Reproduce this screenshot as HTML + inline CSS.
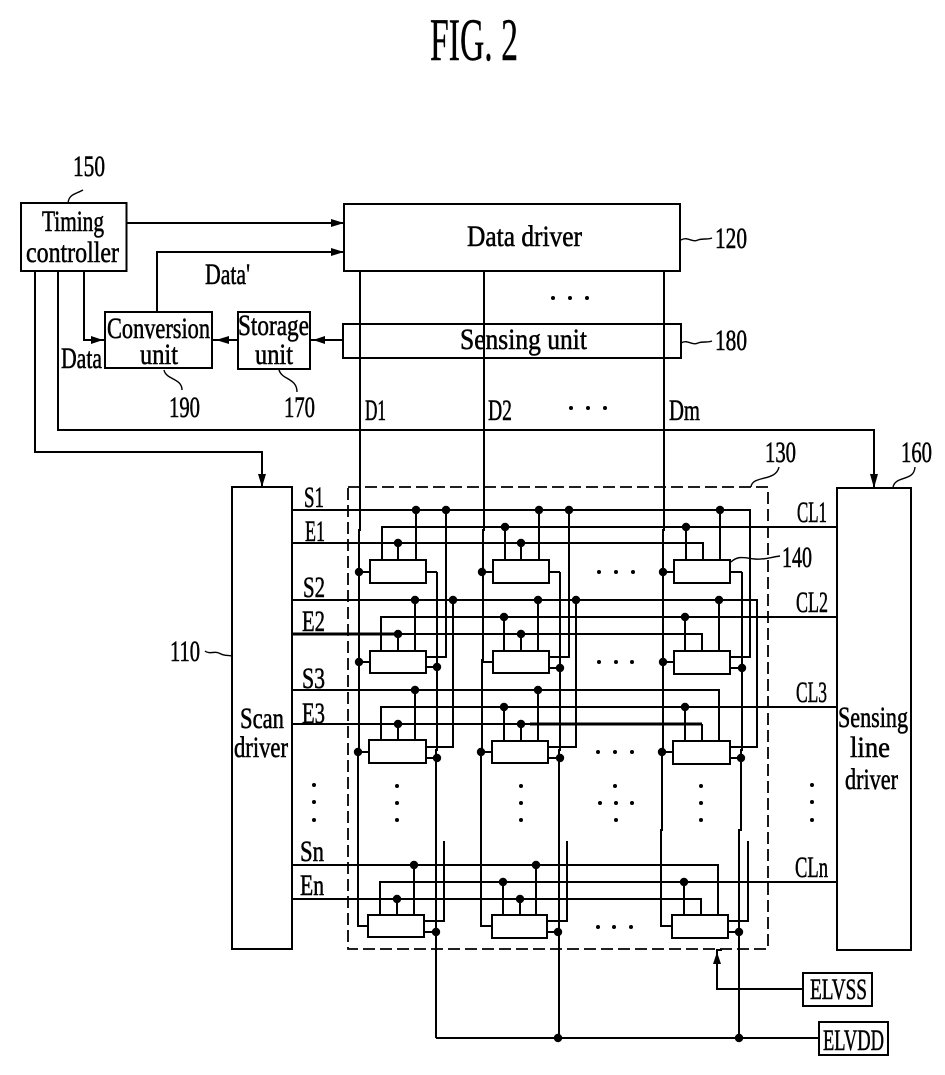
<!DOCTYPE html>
<html><head><meta charset="utf-8">
<style>
html,body{margin:0;padding:0;background:#fff;width:945px;height:1075px;overflow:hidden}
svg{display:block}
text{font-family:"Liberation Serif",serif;fill:#000;stroke:#000;stroke-width:.55;font-size:30px}
.l{fill:none;stroke:#000;stroke-width:2.4;shape-rendering:crispEdges}
.t{fill:none;stroke:#000;stroke-width:1.6;shape-rendering:crispEdges}
.h{fill:none;stroke:#000;stroke-width:3;shape-rendering:crispEdges}
.b{fill:#fff;stroke:#000;stroke-width:2.4;shape-rendering:crispEdges}
.w{fill:none;stroke:#000;stroke-width:1.4}
</style></head><body>
<svg width="945" height="1075" viewBox="0 0 945 1075" xmlns="http://www.w3.org/2000/svg">
<!-- Title -->
<text x="430" y="60" style="font-size:60px;stroke-width:.4" textLength="88" lengthAdjust="spacingAndGlyphs">FIG. 2</text>

<!-- Main blocks -->
<rect class="b" x="21" y="203" width="105.5" height="68"/>
<rect class="l" x="344" y="204" width="336" height="67"/>
<rect class="l" x="343" y="324" width="338" height="34"/>
<rect class="b" x="105" y="312" width="107" height="56"/>
<rect class="b" x="238" y="312" width="72" height="57"/>
<rect class="b" x="232" y="487" width="60" height="462"/>
<rect class="b" x="837" y="488" width="74" height="462"/>
<rect class="b" x="803" y="973" width="69" height="33"/>
<rect class="b" x="819" y="1022" width="69" height="33"/>

<!-- Dashed panel -->
<rect x="348" y="487" width="420" height="462" fill="none" stroke="#000" stroke-width="1.8" stroke-dasharray="12 5"/>

<!-- Top connections -->
<path class="l" d="M127 223H344"/><path d="M331 219L344 223L331 227Z"/>
<path class="t" d="M157 312V252H344"/><path d="M331 248L344 252L331 256Z"/>
<path class="l" d="M84 271V340H105"/><path d="M91 336L103 340L91 344Z"/>
<path class="l" d="M238 340H212"/><path d="M229 336L216 340L229 344Z"/>
<path class="l" d="M343 340H310"/><path d="M325 336L313 340L325 344Z"/>
<path class="l" d="M35 271V452H262V486"/><path d="M258 474L262 487L266 474Z"/>
<path class="l" d="M58 271V430H874V487"/><path d="M870 474L874 488L878 474Z"/>

<!-- Data lines -->
<path class="l" d="M360 271V530H359V750H358V926H368"/>
<path class="l" d="M484 271V530H483V660H482V750H481V926H492"/>
<path class="t" d="M664 271V530H663V750H662V830H661V926H672"/>

<!-- Row 1 -->
<path class="l" d="M292 510H750V657H731"/>
<path class="t" d="M382 560V527H836"/>
<path class="l" d="M292 543H703V560"/>
<path class="l" d="M416 510V560M505 527V560M686 527V560M720 510V560M446 510V657H426M569 510V657H549"/>
<path class="t" d="M398 543V560M539 510V560"/><path class="l" d="M521 543V560"/>
<!-- Row 2 -->
<path class="l" d="M292 600H757V747H731"/>
<path class="l" d="M381 650V617H665"/><path class="t" d="M665 617H836"/>
<path class="l" d="M400 634H702V650"/><path class="h" d="M292 634H400"/>
<path class="l" d="M453 600V747H426M576 600V747H549M415 600V650M398 634V650M521 634V650M504 617V650"/>
<path class="t" d="M538 600V650M685 617V650M719 600V650"/>
<!-- Row 3 -->
<path class="t" d="M292 690H430"/><path class="l" d="M430 690H719V741"/>
<path class="t" d="M665 707H836"/><path class="l" d="M381 741V707H665"/>
<path class="l" d="M292 724H530"/><path class="h" d="M530 724H702"/><path class="t" d="M702 724V741"/>
<path class="l" d="M398 724V741M504 707V741M538 690V741M685 707V741"/>
<path class="t" d="M415 690V741M521 724V741"/>
<!-- Row n -->
<path class="l" d="M292 865H580"/><path class="t" d="M580 865H718V915"/>
<path class="l" d="M380 915V882H836"/>
<path class="l" d="M292 899H701V915"/>
<path class="l" d="M397 899V915M414 865V915M503 882V915M536 865V915"/>
<path class="t" d="M520 899V915M684 882V915"/>
<path class="l" d="M444 841V921H424M567 841V921H547M748 841V921H728"/>

<!-- Power lines -->
<path class="l" d="M437 572H426M437 572V750H436V1038"/>
<path class="l" d="M560 572H549M560 572V750H559V1038"/>
<path class="l" d="M742 572H730M742 572V750H741V830H739V1038"/>
<path class="l" d="M426 667H437M549 668H560M730 668H742M426 758H437M548 758H560M730 758H741M424 932H436M547 932H558M728 932H739"/>
<path class="l" d="M436 1038H819"/>
<path class="l" d="M803 989H717V950H722"/><path d="M713 964L717 952L721 964Z"/>

<!-- Left stubs -->
<path class="l" d="M359 572H370M482 572H493M663 572H674M359 662H370M482 662H493M663 662H674M358 752H369M481 752H492M662 752H673"/>

<!-- Pixel boxes -->
<rect class="b" x="370" y="560" width="56" height="23"/><rect class="b" x="493" y="560" width="56" height="23"/><rect class="b" x="674" y="560" width="56" height="23"/>
<rect class="b" x="370" y="651" width="56" height="22"/><rect class="b" x="493" y="651" width="56" height="22"/><rect class="b" x="674" y="651" width="56" height="23"/>
<rect class="b" x="369" y="740" width="57" height="23"/><rect class="b" x="492" y="741" width="56" height="22"/><rect class="b" x="673" y="741" width="57" height="23"/>
<rect class="b" x="368" y="915" width="56" height="22"/><rect class="b" x="492" y="915" width="55" height="23"/><rect class="b" x="672" y="915" width="56" height="23"/>

<!-- Junction dots -->
<g fill="#000">
<circle cx="416" cy="510" r="4.2"/><circle cx="446" cy="510" r="4.2"/><circle cx="539" cy="510" r="4.2"/><circle cx="569" cy="510" r="4.2"/><circle cx="720" cy="510" r="4.2"/>
<circle cx="505" cy="527" r="4.2"/><circle cx="686" cy="527" r="4.2"/><circle cx="398" cy="543" r="4.2"/><circle cx="521" cy="543" r="4.2"/>
<circle cx="359" cy="572" r="4.2"/><circle cx="482" cy="572" r="4.2"/><circle cx="663" cy="572" r="4.2"/>
<circle cx="415" cy="600" r="4.2"/><circle cx="453" cy="600" r="4.2"/><circle cx="538" cy="600" r="4.2"/><circle cx="576" cy="600" r="4.2"/><circle cx="719" cy="600" r="4.2"/>
<circle cx="504" cy="617" r="4.2"/><circle cx="685" cy="617" r="4.2"/><circle cx="398" cy="634" r="4.2"/><circle cx="521" cy="634" r="4.2"/>
<circle cx="359" cy="662" r="4.2"/><circle cx="663" cy="662" r="4.2"/><circle cx="437" cy="667" r="4.2"/><circle cx="560" cy="668" r="4.2"/><circle cx="742" cy="668" r="4.2"/>
<circle cx="415" cy="690" r="4.2"/><circle cx="538" cy="690" r="4.2"/><circle cx="504" cy="707" r="4.2"/><circle cx="685" cy="707" r="4.2"/><circle cx="398" cy="724" r="4.2"/><circle cx="521" cy="724" r="4.2"/>
<circle cx="358" cy="752" r="4.2"/><circle cx="481" cy="752" r="4.2"/><circle cx="662" cy="752" r="4.2"/><circle cx="437" cy="758" r="4.2"/><circle cx="560" cy="758" r="4.2"/><circle cx="741" cy="758" r="4.2"/>
<circle cx="414" cy="865" r="4.2"/><circle cx="536" cy="865" r="4.2"/><circle cx="503" cy="882" r="4.2"/><circle cx="684" cy="882" r="4.2"/><circle cx="397" cy="899" r="4.2"/><circle cx="520" cy="899" r="4.2"/>
<circle cx="436" cy="932" r="4.2"/><circle cx="558" cy="932" r="4.2"/><circle cx="739" cy="932" r="4.2"/>
<circle cx="558" cy="1038" r="4.2"/><circle cx="739" cy="1038" r="4.2"/>
<!-- ellipsis dots -->
<g>
<circle cx="553" cy="298" r="2"/><circle cx="570" cy="298" r="2"/><circle cx="587" cy="298" r="2"/>
<circle cx="571" cy="408" r="2"/><circle cx="588" cy="408" r="2"/><circle cx="605" cy="408" r="2"/>
<circle cx="599" cy="572" r="2"/><circle cx="616" cy="572" r="2"/><circle cx="633" cy="572" r="2"/>
<circle cx="599" cy="662" r="2"/><circle cx="616" cy="662" r="2"/><circle cx="632" cy="662" r="2"/>
<circle cx="598" cy="752" r="2"/><circle cx="615" cy="752" r="2"/><circle cx="632" cy="752" r="2"/>
<circle cx="598" cy="927" r="2"/><circle cx="614" cy="927" r="2"/><circle cx="631" cy="927" r="2"/>
<circle cx="314" cy="785" r="2"/><circle cx="314" cy="802" r="2"/><circle cx="314" cy="820" r="2"/>
<circle cx="397" cy="786" r="2"/><circle cx="397" cy="803" r="2"/><circle cx="397" cy="820" r="2"/>
<circle cx="521" cy="786" r="2"/><circle cx="521" cy="803" r="2"/><circle cx="521" cy="820" r="2"/>
<circle cx="701" cy="786" r="2"/><circle cx="701" cy="803" r="2"/><circle cx="701" cy="820" r="2"/>
<circle cx="812" cy="785" r="2"/><circle cx="812" cy="802" r="2"/><circle cx="812" cy="820" r="2"/>
<circle cx="615" cy="786" r="2"/><circle cx="600" cy="803" r="2"/><circle cx="616" cy="803" r="2"/><circle cx="632" cy="803" r="2"/><circle cx="616" cy="820" r="2"/>
</g>
</g>

<!-- Leaders -->
<path class="w" d="M68 203C69 194 76 194 83 190"/>
<path class="w" d="M681 240C688 236 692 243 698 240C703 238 707 240 712 238"/>
<path class="w" d="M681 343C688 339 692 346 698 343C703 341 707 343 712 341"/>
<path class="w" d="M164 370C166 380 182 378 182 390"/>
<path class="w" d="M279 370C282 380 297 378 297 392"/>
<path class="w" d="M751 487C752 475 776 482 779 467"/>
<path class="w" d="M893 487C896 475 914 482 915 467"/>
<path class="w" d="M731 562C738 555 745 558 755 559C763 560 772 557 780 556"/>
<path class="w" d="M205 651C210 655 215 650 221 654C225 656 228 655 232 656"/>

<!-- Block text -->
<text x="42" y="231" textLength="62" lengthAdjust="spacingAndGlyphs">Timing</text>
<text x="26" y="262" textLength="93" lengthAdjust="spacingAndGlyphs">controller</text>
<text x="107" y="338" textLength="103" lengthAdjust="spacingAndGlyphs">Conversion</text>
<text x="140" y="364" textLength="38" lengthAdjust="spacingAndGlyphs">unit</text>
<text x="238" y="335" textLength="71" lengthAdjust="spacingAndGlyphs">Storage</text>
<text x="255" y="364" textLength="38" lengthAdjust="spacingAndGlyphs">unit</text>
<text x="467" y="246" textLength="115" lengthAdjust="spacingAndGlyphs">Data driver</text>
<text x="460" y="349" textLength="127" lengthAdjust="spacingAndGlyphs">Sensing unit</text>
<text x="205" y="284" textLength="45" lengthAdjust="spacingAndGlyphs">Data'</text>
<text x="61" y="368" textLength="41" lengthAdjust="spacingAndGlyphs">Data</text>
<text x="240" y="728" textLength="44" lengthAdjust="spacingAndGlyphs">Scan</text>
<text x="234" y="757" textLength="54" lengthAdjust="spacingAndGlyphs">driver</text>
<text x="838" y="727" textLength="70" lengthAdjust="spacingAndGlyphs">Sensing</text>
<text x="850" y="757" textLength="40" lengthAdjust="spacingAndGlyphs">line</text>
<text x="845" y="789" textLength="53" lengthAdjust="spacingAndGlyphs">driver</text>
<text x="810" y="999" textLength="57" lengthAdjust="spacingAndGlyphs">ELVSS</text>
<text x="823" y="1050" textLength="61" lengthAdjust="spacingAndGlyphs">ELVDD</text>

<!-- Reference numbers -->
<text x="73" y="176" textLength="32" lengthAdjust="spacingAndGlyphs">150</text>
<text x="715" y="248" textLength="32" lengthAdjust="spacingAndGlyphs">120</text>
<text x="715" y="350" textLength="32" lengthAdjust="spacingAndGlyphs">180</text>
<text x="169" y="417" textLength="31" lengthAdjust="spacingAndGlyphs">190</text>
<text x="284" y="417" textLength="31" lengthAdjust="spacingAndGlyphs">170</text>
<text x="765" y="462" textLength="31" lengthAdjust="spacingAndGlyphs">130</text>
<text x="901" y="462" textLength="31" lengthAdjust="spacingAndGlyphs">160</text>
<text x="782" y="567" textLength="30" lengthAdjust="spacingAndGlyphs">140</text>
<text x="170" y="661" textLength="30" lengthAdjust="spacingAndGlyphs">110</text>

<!-- Line labels -->
<text x="365" y="420" textLength="21" lengthAdjust="spacingAndGlyphs">D1</text>
<text x="488" y="420" textLength="24" lengthAdjust="spacingAndGlyphs">D2</text>
<text x="669" y="420" textLength="31" lengthAdjust="spacingAndGlyphs">Dm</text>
<text x="304" y="507" textLength="20" lengthAdjust="spacingAndGlyphs">S1</text>
<text x="305" y="541" textLength="20" lengthAdjust="spacingAndGlyphs">E1</text>
<text x="303" y="597" textLength="22" lengthAdjust="spacingAndGlyphs">S2</text>
<text x="302" y="631" textLength="23" lengthAdjust="spacingAndGlyphs">E2</text>
<text x="302" y="688" textLength="23" lengthAdjust="spacingAndGlyphs">S3</text>
<text x="302" y="723" textLength="23" lengthAdjust="spacingAndGlyphs">E3</text>
<text x="300" y="861" textLength="24" lengthAdjust="spacingAndGlyphs">Sn</text>
<text x="300" y="895" textLength="24" lengthAdjust="spacingAndGlyphs">En</text>
<text x="797" y="522" textLength="30" lengthAdjust="spacingAndGlyphs">CL1</text>
<text x="796" y="612" textLength="32" lengthAdjust="spacingAndGlyphs">CL2</text>
<text x="796" y="702" textLength="31" lengthAdjust="spacingAndGlyphs">CL3</text>
<text x="795" y="877" textLength="33" lengthAdjust="spacingAndGlyphs">CLn</text>
</svg>
</body></html>
